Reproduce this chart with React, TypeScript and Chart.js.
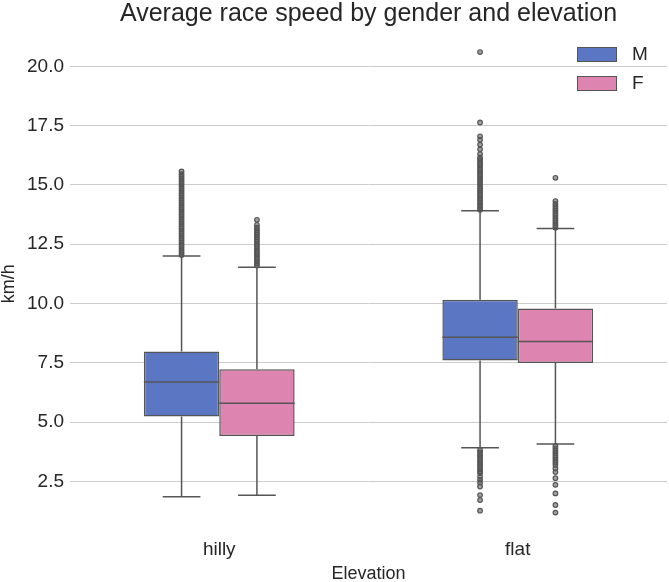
import React, { useEffect, useRef } from 'react';
import { Chart, registerables } from 'chart.js';

Chart.register(...registerables);

const categories = ['hilly', 'flat'];
const yTicks = [2.5, 5, 7.5, 10, 12.5, 15, 17.5, 20];

// box stats per category (hilly, flat)
const maleLow = [1.86, 3.92];
const maleQ1 = [5.24, 7.6];
const maleMedian = [6.69, 8.58];
const maleQ3 = [7.98, 10.16];
const maleHigh = [12.0, 13.91];

const femaleLow = [1.92, 4.08];
const femaleQ1 = [4.42, 7.49];
const femaleMedian = [5.8, 8.4];
const femaleQ3 = [7.23, 9.79];
const femaleHigh = [11.53, 13.16];

const maleOutliers = [
  [12.05, 12.15, 12.25, 12.35, 12.45, 12.55, 12.65, 12.75, 12.85, 12.95, 13.05, 13.15, 13.25, 13.35, 13.45,
    13.55, 13.65, 13.75, 13.85, 13.95, 14.05, 14.15, 14.25, 14.35, 14.45, 14.55, 14.65, 14.75, 14.85, 14.95,
    15.05, 15.15, 15.25, 15.35, 15.45, 15.57],
  [13.95, 14.05, 14.15, 14.25, 14.35, 14.45, 14.55, 14.65, 14.75, 14.85, 14.95, 15.05, 15.15, 15.25, 15.35,
    15.45, 15.55, 15.65, 15.75, 15.85, 15.95, 16.05, 16.15, 16.3, 16.5, 16.7, 16.9, 17.05, 17.63, 20.6,
    3.83, 3.73, 3.63, 3.53, 3.43, 3.33, 3.23, 3.13, 3.03, 2.93, 2.85, 2.7, 2.57, 2.45, 2.29, 1.93, 1.72, 1.27],
];
const femaleOutliers = [
  [11.6, 11.7, 11.8, 11.9, 12.0, 12.1, 12.2, 12.3, 12.4, 12.5, 12.6, 12.7, 12.8, 12.9, 13.0, 13.1, 13.2,
    13.32, 13.53],
  [13.2, 13.3, 13.4, 13.5, 13.6, 13.7, 13.8, 13.9, 14.0, 14.1, 14.2, 14.32, 15.3,
    4.0, 3.9, 3.8, 3.7, 3.6, 3.5, 3.4, 3.3, 3.2, 3.05, 2.9, 2.64, 2.36, 2.0, 1.51, 1.19],
];

const maleColor = '#5b77c4';
const femaleColor = '#de84b0';
const edgeColor = '#555555';
const textColor = '#262626';

const boxExtras = {
  id: 'boxExtras',
  afterDatasetsDraw(chart: any) {
    const { ctx, scales } = chart;
    const y = scales.y;
    const stats = [
      { low: maleLow, med: maleMedian, high: maleHigh, q1: maleQ1, q3: maleQ3, out: maleOutliers },
      { low: femaleLow, med: femaleMedian, high: femaleHigh, q1: femaleQ1, q3: femaleQ3, out: femaleOutliers },
    ];
    ctx.save();
    ctx.strokeStyle = edgeColor;
    stats.forEach((s, di) => {
      const meta = chart.getDatasetMeta(di);
      meta.data.forEach((bar: any, i: number) => {
        const x = bar.x;
        const w = bar.width;
        const cap = w / 4;
        ctx.lineWidth = 1.5;
        ctx.beginPath();
        // median
        ctx.moveTo(x - w / 2, y.getPixelForValue(s.med[i]));
        ctx.lineTo(x + w / 2, y.getPixelForValue(s.med[i]));
        // whiskers
        ctx.moveTo(x, y.getPixelForValue(s.q3[i]));
        ctx.lineTo(x, y.getPixelForValue(s.high[i]));
        ctx.moveTo(x, y.getPixelForValue(s.q1[i]));
        ctx.lineTo(x, y.getPixelForValue(s.low[i]));
        // caps
        ctx.moveTo(x - cap, y.getPixelForValue(s.high[i]));
        ctx.lineTo(x + cap, y.getPixelForValue(s.high[i]));
        ctx.moveTo(x - cap, y.getPixelForValue(s.low[i]));
        ctx.lineTo(x + cap, y.getPixelForValue(s.low[i]));
        ctx.stroke();
        // outliers
        ctx.lineWidth = 1.2;
        ctx.fillStyle = 'rgba(85,85,85,0.55)';
        s.out[i].forEach((v: number) => {
          ctx.beginPath();
          ctx.arc(x, y.getPixelForValue(v), 2.3, 0, Math.PI * 2);
          ctx.fill();
          ctx.stroke();
        });
      });
    });
    ctx.restore();
  },
};

const App: React.FC = () => {
  const chartRef = useRef<HTMLCanvasElement>(null);

  useEffect(() => {
    if (!chartRef.current) return;
    const ctx = chartRef.current.getContext('2d');
    if (!ctx) return;
    Chart.defaults.font.family = '"Liberation Sans", Arial, sans-serif';
    Chart.defaults.color = textColor;

    const chart = new Chart(ctx, {
      type: 'bar',
      data: {
        labels: categories,
        datasets: [
          {
            label: 'M',
            data: maleQ1.map((q, i) => [q, maleQ3[i]]) as any,
            backgroundColor: maleColor,
            borderColor: edgeColor,
            borderWidth: 1.5,
            borderSkipped: false,
            categoryPercentage: 0.505,
            barPercentage: 1.0,
          },
          {
            label: 'F',
            data: femaleQ1.map((q, i) => [q, femaleQ3[i]]) as any,
            backgroundColor: femaleColor,
            borderColor: edgeColor,
            borderWidth: 1.5,
            borderSkipped: false,
            categoryPercentage: 0.505,
            barPercentage: 1.0,
          },
        ],
      },
      options: {
        animation: false,
        responsive: true,
        maintainAspectRatio: false,
        layout: { padding: { left: 0, right: 2, top: 0, bottom: 0 } },
        plugins: {
          legend: { display: false },
          tooltip: { enabled: false },
          title: {
            display: true,
            fullSize: false,
            text: 'Average race speed by gender and elevation',
            color: textColor,
            font: { size: 25, weight: 'normal', lineHeight: 1.1 },
            padding: { top: 0, bottom: 2 },
          },
        },
        scales: {
          x: {
            grid: { display: false, drawTicks: false },
            border: { display: false },
            ticks: { color: textColor, font: { size: 19 }, padding: 0 },
            title: {
              display: true,
              text: 'Elevation',
              color: textColor,
              font: { size: 18, lineHeight: 0.9 },
              padding: 0,
            },
            afterFit: (scale: any) => {
              scale.height = 44;
            },
          },
          y: {
            min: 0.12,
            max: 21.55,
            grid: { color: '#cccccc', lineWidth: 1, drawTicks: false },
            border: { display: false },
            ticks: {
              color: textColor,
              font: { size: 19 },
              padding: 6,
              callback: (v: any) => Number(v).toFixed(1),
            },
            afterBuildTicks: (scale: any) => {
              scale.ticks = yTicks.map((v) => ({ value: v }));
            },
            title: {
              display: true,
              text: 'km/h',
              color: textColor,
              font: { size: 18, lineHeight: 1 },
              padding: 0,
            },
            afterFit: (scale: any) => {
              scale.width = 70;
            },
          },
        },
      },
      plugins: [boxExtras],
    });

    return () => {
      chart.destroy();
    };
  }, []);

  const legendItems = [
    { label: 'M', color: maleColor, top: 46 },
    { label: 'F', color: femaleColor, top: 75 },
  ];

  return (
    <div style={{ position: 'fixed', left: 0, top: 0, width: 669, height: 582, background: '#fff' }}>
      <canvas ref={chartRef} />
      {legendItems.map((item) => (
        <div key={item.label} style={{ position: 'absolute', left: 577, top: item.top, display: 'flex', alignItems: 'center' }}>
          <div style={{ width: 38, height: 13, background: item.color, border: `1.5px solid ${edgeColor}` }} />
          <span style={{ marginLeft: 15, fontFamily: '"Liberation Sans", Arial, sans-serif', fontSize: 19, color: textColor, lineHeight: '16px' }}>
            {item.label}
          </span>
        </div>
      ))}
    </div>
  );
};

export default App;
